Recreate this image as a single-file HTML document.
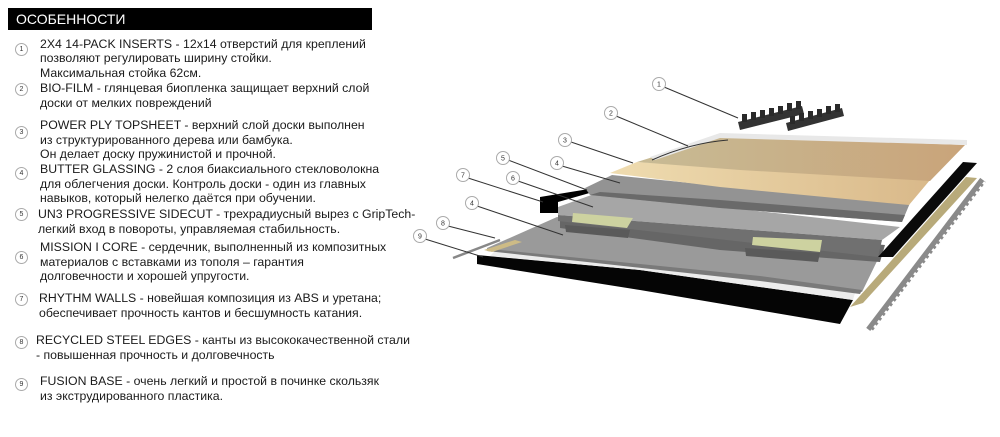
<!DOCTYPE html>
<html><head><meta charset="utf-8"><style>
body{margin:0;width:1000px;height:437px;background:#fff;position:relative;overflow:hidden;font-family:"Liberation Sans","DejaVu Sans",sans-serif;}
.hd{position:absolute;left:8px;top:8px;width:364px;height:22px;background:#000;color:#fff;font-size:14px;line-height:22px;padding-left:8px;box-sizing:border-box;}
.t{position:absolute;font-size:12.3px;color:#1a1a1a;white-space:nowrap;line-height:14px;}
.c{position:absolute;width:11px;height:11px;border:1px solid #aaa;border-radius:50%;font-size:7px;line-height:11px;text-align:center;color:#333;left:15px;}
svg{position:absolute;left:0;top:0}
</style></head><body>
<div class="hd">ОСОБЕННОСТИ</div>

<div class="c" style="top:43px">1</div>
<div class="t" style="left:40px;top:37px">2X4 14-PACK INSERTS - 12x14 отверстий для креплений</div>
<div class="t" style="left:40px;top:51px">позволяют регулировать ширину стойки.</div>
<div class="t" style="left:40px;top:66px">Максимальная стойка 62см.</div>

<div class="c" style="top:83px">2</div>
<div class="t" style="left:40px;top:81px">BIO-FILM - глянцевая биопленка защищает верхний слой</div>
<div class="t" style="left:40px;top:96px">доски от мелких повреждений</div>

<div class="c" style="top:126px">3</div>
<div class="t" style="left:40px;top:118px">POWER PLY TOPSHEET - верхний слой доски выполнен</div>
<div class="t" style="left:40px;top:133px">из структурированного дерева или бамбука.</div>
<div class="t" style="left:40px;top:147px">Он делает доску пружинистой и прочной.</div>

<div class="c" style="top:167px">4</div>
<div class="t" style="left:40px;top:162px">BUTTER GLASSING - 2 слоя биаксиального стекловолокна</div>
<div class="t" style="left:40px;top:177px">для облегчения доски. Контроль доски - один из главных</div>
<div class="t" style="left:40px;top:191px">навыков, который нелегко даётся при обучении.</div>

<div class="c" style="top:208px">5</div>
<div class="t" style="left:38px;top:207px">UN3 PROGRESSIVE SIDECUT - трехрадиусный вырез с GripTech-</div>
<div class="t" style="left:38px;top:222px">легкий вход в повороты, управляемая стабильность.</div>

<div class="c" style="top:251px">6</div>
<div class="t" style="left:40px;top:240px">MISSION I CORE - сердечник, выполненный из композитных</div>
<div class="t" style="left:40px;top:255px">материалов с вставками из тополя – гарантия</div>
<div class="t" style="left:40px;top:269px">долговечности и хорошей упругости.</div>

<div class="c" style="top:293px">7</div>
<div class="t" style="left:39px;top:291px">RHYTHM WALLS - новейшая композиция из ABS и уретана;</div>
<div class="t" style="left:39px;top:306px">обеспечивает прочность кантов и бесшумность катания.</div>

<div class="c" style="top:336px">8</div>
<div class="t" style="left:36px;top:333px">RECYCLED STEEL EDGES - канты из высококачественной стали</div>
<div class="t" style="left:36px;top:348px">- повышенная прочность и долговечность</div>

<div class="c" style="top:378px">9</div>
<div class="t" style="left:40px;top:374px">FUSION BASE - очень легкий и простой в починке скользяк</div>
<div class="t" style="left:40px;top:389px">из экструдированного пластика.</div>

<svg width="1000" height="437" viewBox="0 0 1000 437">
<defs>
<linearGradient id="ts" x1="0" y1="0" x2="1" y2="0"><stop offset="0" stop-color="#c8bb95"/><stop offset="1" stop-color="#c9a47a"/></linearGradient>
<linearGradient id="pw" x1="0" y1="0" x2="1" y2="0"><stop offset="0" stop-color="#efdcb0"/><stop offset="1" stop-color="#d9b98a"/></linearGradient>
</defs>
<!-- black base -->
<polygon points="477,255 640,270 760,287 853,300 840,324 640,290 477,264" fill="#050505"/>
<!-- white film -->
<polygon points="500,246 640,262 760,280 855,293 853,300 760,287 640,270 490,256" fill="#ececec"/>
<!-- lower grey plate -->
<polygon points="487,248 557,217 880,255 862,292 760,279 487,250" fill="#9a9a9a"/>
<polygon points="490,249 760,276 862,290 860,294 760,281 487,251" fill="#7a7a7a"/>
<!-- shadow under core -->
<polygon points="560,218 885,245 880,262 720,250 560,228" fill="#666"/>
<!-- core -->
<polygon points="558,207 597,193 900,227 882,240 558,215" fill="#a6a6a6"/>
<polygon points="558,215 882,240 878,257 558,221" fill="#707070"/>
<!-- block shadows & blocks -->
<polygon points="565,225 630,230 628,238 566,232" fill="#5a5a5a"/>
<polygon points="745,248 820,253 818,262 746,256" fill="#5a5a5a"/>
<polygon points="573,213 633,218 627,228 572,222" fill="#cdd2a0"/>
<polygon points="753,237 822,240 820,252 752,245" fill="#cdd2a0"/>
<!-- left sidewall -->
<polygon points="540,197 595,188 600,190 558,202 558,213 540,213" fill="#000"/>
<!-- top glass -->
<polygon points="585,188 612,175 720,186 910,203 902,222 720,208 590,195" fill="#939393"/>
<polygon points="600,192 720,200 905,215 902,222 720,208 590,195" fill="#6a6a6a"/>
<!-- poplar band -->
<polygon points="610,173 637,162 930,180 909,205 720,187" fill="url(#pw)"/>
<!-- topsheet -->
<polygon points="637,162 720,136 965,145 930,181 740,170" fill="url(#ts)"/>
<polygon points="650,157 720,133 967,140 967,145 720,138 655,160" fill="#e8e8e8"/>
<path d="M652,160 Q690,143 728,140" stroke="#333" stroke-width="1" fill="none"/>
<!-- right sidewall -->
<polygon points="963,162 977,163 893,257 878,257" fill="#0a0a0a"/>
<!-- yellow strip -->
<polygon points="966,177 977,178 863,303 850,307" fill="#b8aa7a"/>
<!-- steel edge -->
<line x1="983" y1="180" x2="869" y2="330" stroke="#8a8a8a" stroke-width="7"/>
<line x1="985" y1="182" x2="871" y2="332" stroke="#fff" stroke-width="2.5" stroke-dasharray="3,3"/>
<!-- left steel rod -->
<line x1="453" y1="258" x2="500" y2="240" stroke="#888" stroke-width="2.5"/>
<polygon points="484,250 515,240 522,242 492,252" fill="#cdbb86"/>
<!-- inserts -->
<polygon points="738,122 802,106 804,114 740,130" fill="#333"/>
<polygon points="786,123 842,108 844,116 788,131" fill="#333"/>
<g fill="#2a2a2a">
<rect x="742" y="114" width="5" height="8"/><rect x="751" y="112" width="5" height="8"/><rect x="760" y="110" width="5" height="8"/><rect x="769" y="108" width="5" height="8"/><rect x="778" y="106" width="5" height="8"/><rect x="787" y="103" width="5" height="8"/><rect x="796" y="101" width="5" height="8"/>
<rect x="790" y="116" width="5" height="8"/><rect x="799" y="113" width="5" height="8"/><rect x="808" y="111" width="5" height="8"/><rect x="817" y="109" width="5" height="8"/><rect x="826" y="106" width="5" height="8"/><rect x="835" y="104" width="5" height="8"/>
</g>
<!-- callouts -->
<g stroke="#333" stroke-width="1" fill="none">
<line x1="664" y1="87" x2="738" y2="118"/>
<line x1="616" y1="116" x2="688" y2="146"/>
<line x1="571" y1="142" x2="633" y2="163"/>
<line x1="508" y1="160" x2="587" y2="190"/>
<line x1="562" y1="166" x2="620" y2="183"/>
<line x1="468" y1="178" x2="543" y2="202"/>
<line x1="518" y1="181" x2="593" y2="207"/>
<line x1="477" y1="206" x2="563" y2="235"/>
<line x1="448" y1="226" x2="495" y2="238"/>
<line x1="425" y1="239" x2="483" y2="257"/>
</g>
<g fill="#fff" stroke="#aaa" stroke-width="1">
<circle cx="659" cy="84" r="6.5"/><circle cx="611" cy="113" r="6.5"/><circle cx="565" cy="140" r="6.5"/>
<circle cx="503" cy="158" r="6.5"/><circle cx="557" cy="163" r="6.5"/><circle cx="463" cy="175" r="6.5"/>
<circle cx="513" cy="178" r="6.5"/><circle cx="472" cy="203" r="6.5"/><circle cx="443" cy="223" r="6.5"/>
<circle cx="420" cy="236" r="6.5"/>
</g>
<g font-family="Liberation Sans, sans-serif" font-size="7" fill="#333" text-anchor="middle">
<text x="659" y="86.5">1</text><text x="611" y="115.5">2</text><text x="565" y="142.5">3</text>
<text x="503" y="160.5">5</text><text x="557" y="165.5">4</text><text x="463" y="177.5">7</text>
<text x="513" y="180.5">6</text><text x="472" y="205.5">4</text><text x="443" y="225.5">8</text>
<text x="420" y="238.5">9</text>
</g>
</svg>
</body></html>
